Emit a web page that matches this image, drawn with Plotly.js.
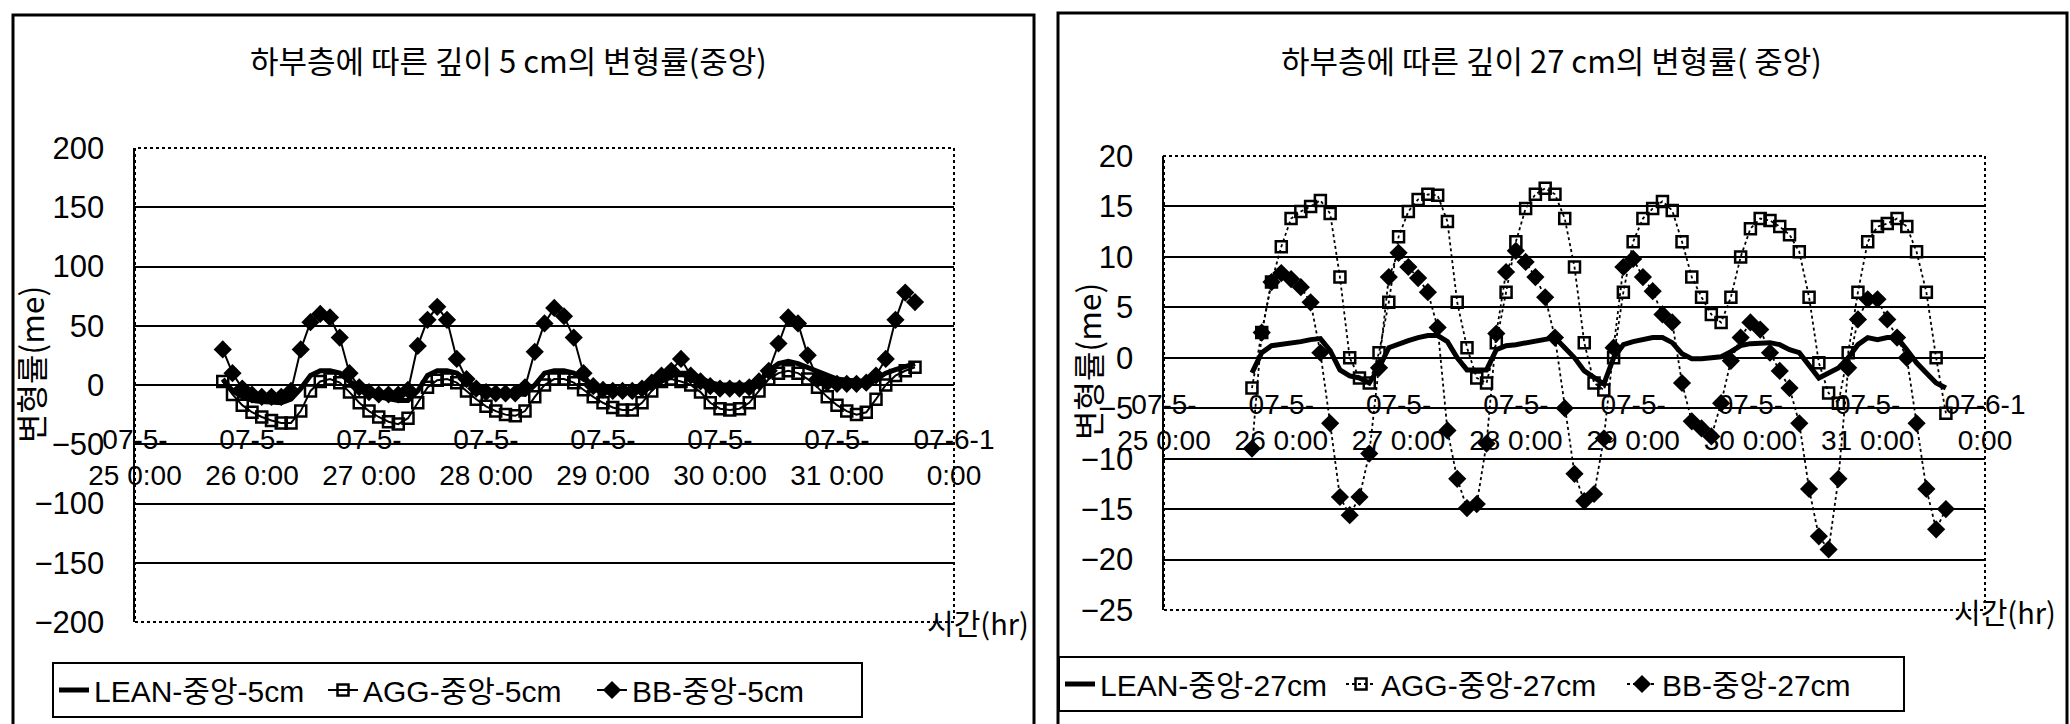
<!DOCTYPE html>
<html>
<head>
<meta charset="utf-8">
<script src="https://cdn.plot.ly/plotly-3.0.1.min.js"></script>
<style>
html,body{margin:0;padding:0;background:#fff;}
#chart{width:2070px;height:724px;}
</style>
</head>
<body>
<div id="chart"></div>
<script>
// ---------- data ----------
const startTime = [2007, 5, 25, 18]; // first reading: 2007-05-25 18:00
const stepHours = 2;                 // reading interval (hours)

const dayTicks = ['2007-05-25','2007-05-26','2007-05-27','2007-05-28','2007-05-29','2007-05-30','2007-05-31','2007-06-01'];
const dayTickLabels = ['07-5-<br>25 0:00','07-5-<br>26 0:00','07-5-<br>27 0:00','07-5-<br>28 0:00','07-5-<br>29 0:00','07-5-<br>30 0:00','07-5-<br>31 0:00','07-6-1<br>0:00'];

const seriesNames5 = ['LEAN-중앙-5cm', 'AGG-중앙-5cm', 'BB-중앙-5cm'];
const seriesNames27 = ['LEAN-중앙-27cm', 'AGG-중앙-27cm', 'BB-중앙-27cm'];

const yTicks5 = [-200,-150,-100,-50,0,50,100,150,200];
const yTicks27 = [-25,-20,-15,-10,-5,0,5,10,15,20];

// depth 5 cm
const lean5 = [5,-5,-10,-13,-14,-15,-15,-12,-3,8, 12,12,10,3,-3,-8,-10,-12,-13,-13, -5,8,12,12,10,4,-3,-5,-6,-7, -8,-8,0,10,12,12,10,5,0,-3, -4,-5,-5,-4,-2,3,8,10,10,6, 2,0,0,0,0,2,12,18,20,18, 15,12,8,5,4,3,3,5,10,13, 15,18];
const agg5 = [3,-8,-17,-23,-27,-30,-32,-32,-22,-5, 3,5,2,-6,-15,-22,-27,-31,-33,-28, -15,-2,4,5,2,-5,-12,-18,-22,-25, -26,-22,-10,0,5,5,2,-4,-10,-15, -19,-21,-21,-15,-5,3,5,3,0,-6, -15,-20,-21,-20,-15,-5,5,10,12,10, 5,-2,-10,-17,-22,-25,-23,-12,0,8, 12,15];
const bb5 = [30,10,-3,-8,-10,-10,-10,-5,30,53, 60,57,40,10,-2,-6,-8,-8,-8,-4, 33,55,66,55,22,5,-3,-6,-7,-7, -7,-2,28,52,65,58,40,10,-1,-4, -5,-5,-5,-3,2,8,12,22,8,3, -1,-3,-3,-3,-2,3,12,35,57,52, 25,5,2,1,1,1,2,8,22,55, 78,70];

// depth 27 cm
const lean27 = [-1.5,0.5,1.2,1.3,1.5,1.6,1.8,1.9,0.7,-1.2, -1.8,-2,-2.5,-1,1,1.4,1.7,2,2.2,2.2, 1.6,0,-1.2,-1.2,-1.2,0.8,1.2,1.3,1.5,1.6, 1.8,2,1,0,-1.3,-2,-2.6,0,1.3,1.6, 1.8,2,2,1.5,0.4,-0.1,-0.1,0,0.1,0.6, 1.2,1.4,1.5,1.5,1.3,0.8,0.5,-0.8,-2,-1.5, -1,0,1.3,2,1.8,2,2,0.8,-0.5,-1.5, -2.5,-3];
const agg27 = [-3,2.5,7.5,11,13.8,14.5,15,15.6,14.3,8, 0,-2,-2.5,0.5,5.5,12,14.5,15.7,16.2,16.1, 13.5,5.5,1,-2,-2.5,1.5,6.5,11.5,14.8,16.2, 16.8,16.2,13.8,9,1.5,-2.5,-3.2,0,6.5,11.5, 13.8,14.8,15.5,14.6,11.5,8,6,4.3,3.5,6, 10,12.8,13.8,13.6,13,12.2,10.5,6,-0.5,-3.5, -4.5,0.5,6.5,11.5,13,13.3,13.8,13,10.5,6.5, 0,-5.5];
const bb27 = [-9,2.5,7.5,8.4,7.8,7,5.5,0.5,-6.5,-13.8, -15.6,-13.8,-9.5,-1,8,10.4,9,7.9,6.5,3, -7.2,-12,-14.9,-14.5,-8.5,2.4,8.5,10.6,9.5,8, 6,2,-5,-11.5,-14.2,-13.5,-8,1,9,9.8, 8,6.6,4.3,3.5,-2.5,-6.3,-7,-7.8,-4.5,-0.3, 2,3.5,2.8,0.5,-1.3,-3,-6.5,-13,-17.7,-19, -12,-1,3.8,5.8,5.8,3.8,2,0,-6.5,-13, -17,-15];

// ---------- time stamps of the readings ----------
function pad(n){return (n<10?'0':'')+n;}
function timesFor(n){
  const out=[];
  const t0=Date.UTC(startTime[0],startTime[1]-1,startTime[2],startTime[3]);
  for(let i=0;i<n;i++){
    const d=new Date(t0+i*stepHours*3600000);
    out.push(d.getUTCFullYear()+'-'+pad(d.getUTCMonth()+1)+'-'+pad(d.getUTCDate())+' '+pad(d.getUTCHours())+':00');
  }
  return out;
}

// ---------- layout geometry ----------
const W=2070,H=724;
const px=v=>v/W, py=v=>1-v/H;
const FONT='"Liberation Sans", "Noto Sans CJK KR", Arial, sans-serif';
const KFONT='"Noto Sans CJK KR", "Liberation Sans", sans-serif';

function mk(y, name, kind, xa, ya, leg, dotted){
  const t={x:timesFor(y.length), y:y, name:name, xaxis:xa, yaxis:ya, legend:leg, type:'scatter', cliponaxis:false};
  if(kind==='lean'){
    t.mode='lines'; t.line={color:'#000', width:5};
  } else if(kind==='agg'){
    t.mode='lines+markers'; t.line={color:'#000', width: dotted?1.8:2, dash: dotted?'dot':'solid'};
    t.marker={symbol:'square-open', size:11, color:'#000', line:{width:2.5,color:'#000'}};
  } else {
    t.mode='lines+markers'; t.line={color:'#000', width: dotted?1.8:2, dash: dotted?'dot':'solid'};
    t.marker={symbol:'diamond', size:14, color:'#000'};
  }
  return t;
}

const data=[
  mk(lean5, seriesNames5[0],'lean','x','y','legend',false),
  mk(agg5, seriesNames5[1],'agg','x','y','legend',false),
  mk(bb5, seriesNames5[2],'bb','x','y','legend',false),
  mk(lean27, seriesNames27[0],'lean','x2','y2','legend2',true),
  mk(agg27, seriesNames27[1],'agg','x2','y2','legend2',true),
  mk(bb27, seriesNames27[2],'bb','x2','y2','legend2',true)
];

function xAxis(domain, pos){
  return {domain:domain, type:'date', range:['2007-05-25 00:00','2007-06-01 00:00'],
    tickvals:dayTicks, ticktext:dayTickLabels, tickangle:0, showgrid:false, zeroline:false,
    showline:false, ticks:'', anchor:'free', position:pos,
    tickfont:{family:FONT, size:28, color:'#000'}, fixedrange:true};
}
function yAxis(domain, range, ticks, anchor){
  return {domain:domain, range:range, tickvals:ticks, showgrid:true, gridcolor:'#000', gridwidth:2,
    zeroline:false, showline:true, linecolor:'#000', linewidth:2.5, ticks:'', ticklabelstandoff:22,
    tickfont:{family:FONT, size:31, color:'#000'}, anchor:anchor, fixedrange:true};
}

const legendBase={xanchor:'left', yanchor:'top', orientation:'h', bgcolor:'#fff',
    bordercolor:'#000', borderwidth:2, font:{family:FONT, size:30, color:'#000'}, entrywidthmode:'pixels'};

const layout={
  width:W, height:H, margin:{l:0,r:0,t:0,b:0}, paper_bgcolor:'#fff', plot_bgcolor:'#fff',
  font:{family:FONT, color:'#000'},
  showlegend:true,
  xaxis:xAxis([px(135),px(954)], py(420)),
  yaxis:yAxis([py(622),py(148)],[-200,200],yTicks5,'x'),
  xaxis2:xAxis([px(1164),px(1985)], py(385)),
  yaxis2:yAxis([py(610),py(156)],[-25,20],yTicks27,'x2'),
  legend:Object.assign({x:px(52), y:py(662), entrywidth:224}, legendBase),
  legend2:Object.assign({x:px(1058), y:py(656), entrywidth:236}, legendBase),
  shapes:[
    {type:'rect', xref:'paper', yref:'paper', x0:px(13), x1:px(1034), y0:py(740), y1:py(15), line:{color:'#000', width:3}},
    {type:'rect', xref:'paper', yref:'paper', x0:px(1058), x1:px(2067), y0:py(740), y1:py(13), line:{color:'#000', width:3}},
    {type:'rect', xref:'x domain', yref:'y domain', x0:0, x1:1, y0:0, y1:1, line:{color:'#000', width:2, dash:'dot'}, layer:'above'},
    {type:'rect', xref:'x2 domain', yref:'y2 domain', x0:0, x1:1, y0:0, y1:1, line:{color:'#000', width:2, dash:'dot'}, layer:'above'}
  ],
  annotations:[
    {text:'하부층에 따른 깊이 5 cm의 변형률(중앙)', xref:'paper', yref:'paper', x:px(508), y:py(59), xanchor:'center', yanchor:'middle', showarrow:false, font:{family:KFONT, size:31, color:'#000'}},
    {text:'하부층에 따른 깊이 27 cm의 변형률( 중앙)', xref:'paper', yref:'paper', x:px(1551), y:py(59), xanchor:'center', yanchor:'middle', showarrow:false, font:{family:KFONT, size:31, color:'#000'}},
    {text:'시간(hr)', xref:'paper', yref:'paper', x:px(1031), y:py(622), xanchor:'right', yanchor:'middle', showarrow:false, font:{family:KFONT, size:29, color:'#000'}},
    {text:'시간(hr)', xref:'paper', yref:'paper', x:px(2058), y:py(611), xanchor:'right', yanchor:'middle', showarrow:false, font:{family:KFONT, size:29, color:'#000'}},
    {text:'변형률(me)', xref:'paper', yref:'paper', x:px(30), y:py(365), xanchor:'center', yanchor:'middle', textangle:-90, showarrow:false, font:{family:KFONT, size:32, color:'#000'}},
    {text:'변형률(me)', xref:'paper', yref:'paper', x:px(1087), y:py(362), xanchor:'center', yanchor:'middle', textangle:-90, showarrow:false, font:{family:KFONT, size:32, color:'#000'}}
  ]
};

Plotly.newPlot('chart', data, layout, {displayModeBar:false, staticPlot:true});
</script>
</body>
</html>
